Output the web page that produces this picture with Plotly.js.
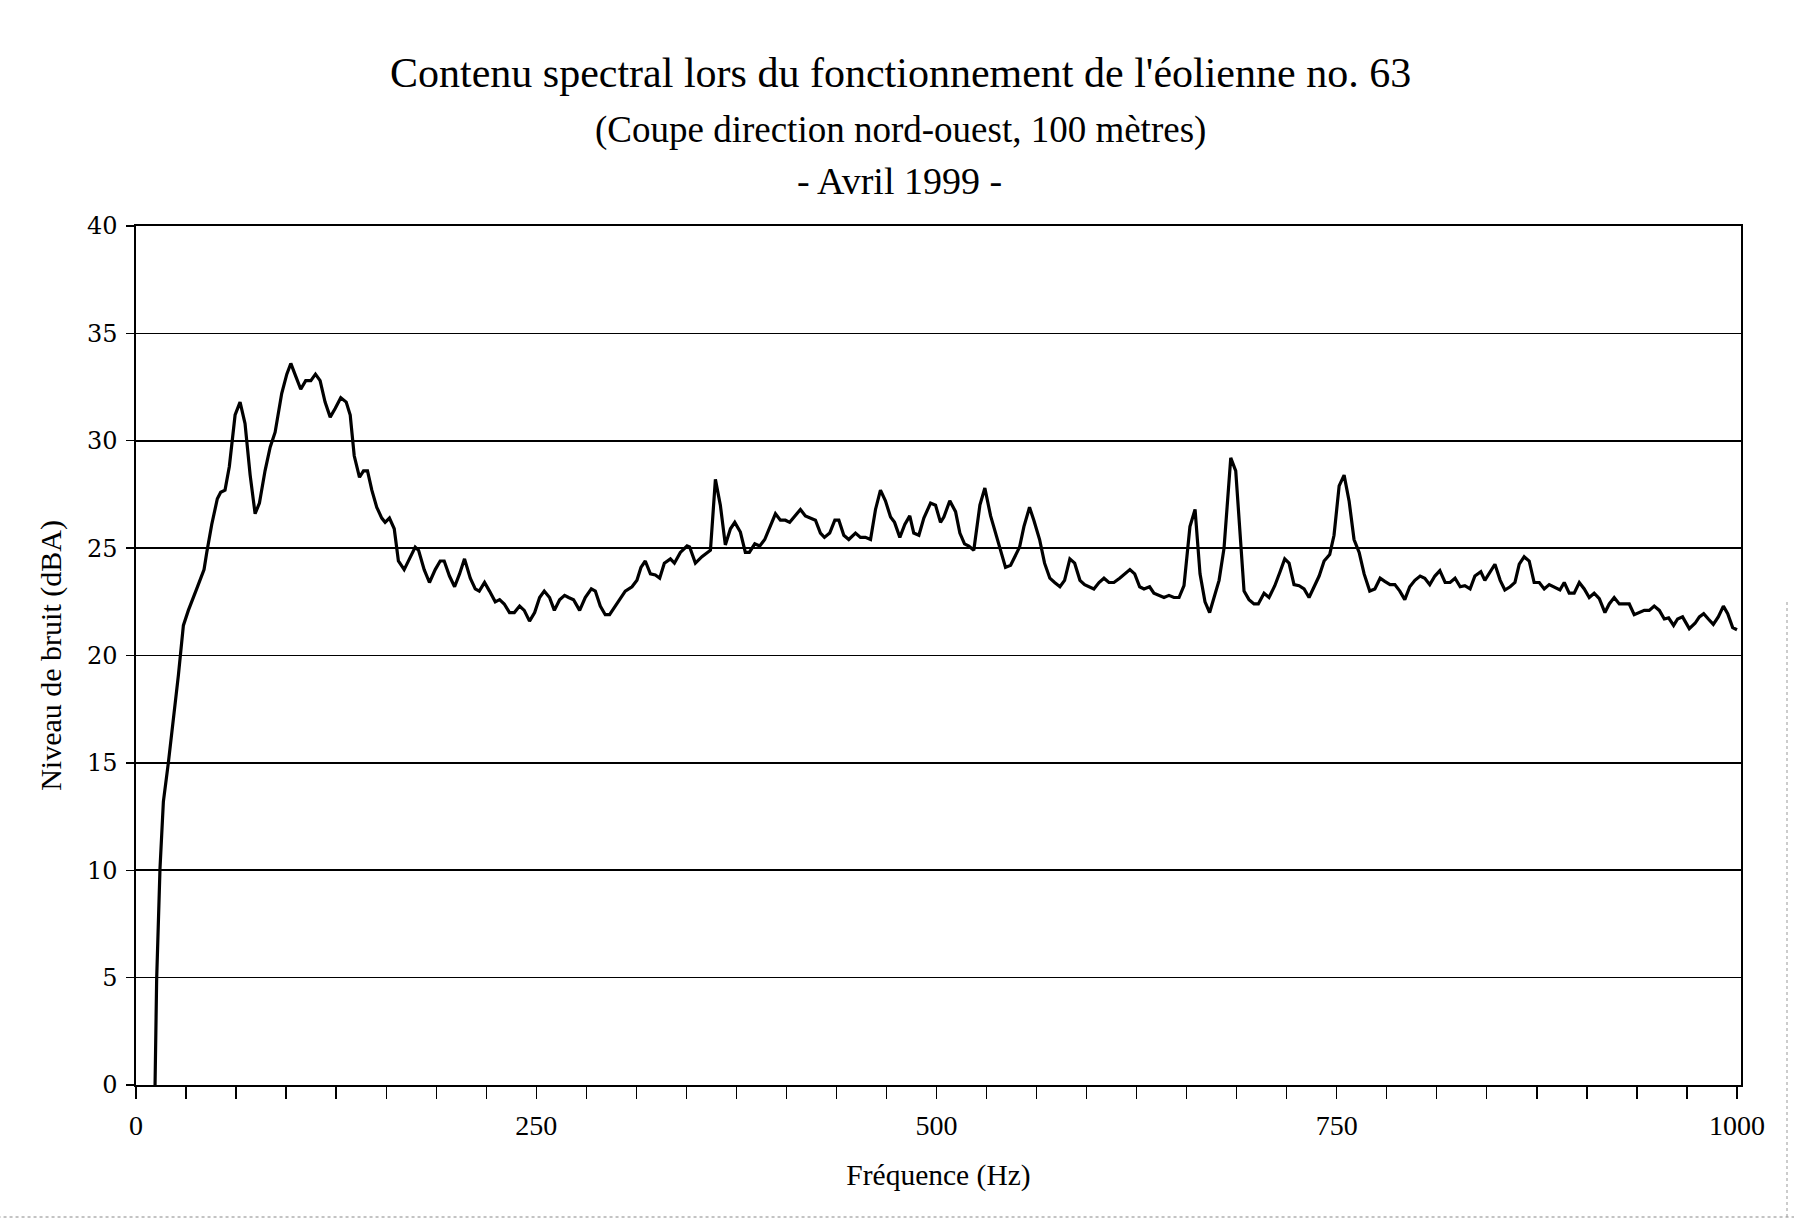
<!DOCTYPE html>
<html>
<head>
<meta charset="utf-8">
<script src="https://cdn.plot.ly/plotly-3.0.1.min.js"></script>
<style>html,body{margin:0;padding:0;background:#fff;}#chart{width:1794px;height:1224px;}</style>
</head>
<body>
<div id="chart"></div>
<script>
// Frequency (Hz) of each sample
const freqHz = [
  11.9, 12.9, 15.0, 17.1, 20.2, 23.3, 26.5, 29.6, 32.7, 37.9, 42.5, 44.2, 47.3, 50.8, 52.9, 55.6, 58.3, 61.9, 65.0, 68.1,
  71.3, 74.4, 77.1, 80.6, 83.8, 86.9, 91.0, 94.2, 96.7, 99.8, 102.9, 106.0, 109.2, 112.1, 115.0, 118.1, 121.3, 124.4, 127.9, 131.3,
  133.8, 136.3, 139.6, 142.1, 144.6, 147.3, 150.4, 153.5, 155.6, 158.3, 161.3, 163.9,
  167.5, 170.8, 174.4, 176.5, 180.0, 183.3, 186.9, 190.0, 192.5, 195.8, 199.0, 202.1, 205.2, 208.8, 211.9, 214.4, 217.7, 220.8, 224.4, 227.1,
  230.0, 233.3, 236.3, 239.6, 242.5, 245.8, 249.0, 252.1, 255.0, 258.3, 261.3, 264.6, 267.7, 270.2, 273.3, 277.1, 280.6, 284.4, 286.9, 290.0,
  293.1, 295.8, 299.4, 302.5, 305.6, 309.8, 312.9, 315.4, 318.1, 321.3, 324.4, 327.1, 330.0,
  333.8, 336.3, 340.0, 344.2, 345.8, 349.4, 353.5, 358.8, 361.9, 365.0, 368.1, 371.3, 374.0, 377.5, 380.6, 383.1, 386.5, 389.6, 392.7, 396.3,
  399.4, 402.5, 405.6, 408.3, 411.9, 415.0, 418.1, 421.3, 424.4, 427.5, 430.0, 433.3, 436.5, 439.0, 442.1, 445.2, 449.4, 452.5, 455.6, 458.8,
  461.9, 465.0, 468.1, 471.3, 473.8, 477.1, 480.2, 483.3, 485.8, 489.0, 492.1, 496.3, 499.4,
  502.5, 504.6, 508.3, 511.9, 514.6, 517.5, 520.2, 523.3, 527.1, 530.2, 533.8, 536.9, 540.0, 543.1, 546.3, 548.8, 551.9, 554.6, 558.1, 560.8,
  564.4, 567.5, 570.8, 573.8, 577.1, 580.0, 583.3, 586.3, 589.6, 592.5, 595.2, 598.3, 601.5, 604.6, 607.7, 610.8, 614.4, 617.5, 620.8, 623.8,
  626.9, 629.6, 633.1, 635.8, 639.0, 642.1, 645.2, 648.3, 651.5, 654.6, 658.3, 661.5, 664.6, 667.7, 670.6,
  673.8, 676.5, 679.6, 681.7, 683.8, 686.9, 689.6, 692.1, 695.2, 698.3, 701.0, 704.6, 707.7, 711.3, 714.6, 717.5, 720.2, 723.3, 726.5, 729.6,
  732.7, 735.8, 739.0, 742.1, 745.6, 748.3, 751.5, 754.6, 757.7, 760.8, 764.0, 767.1, 770.6, 773.8, 777.1, 780.0, 783.3, 786.3, 789.4, 792.5,
  795.6, 798.8, 802.1, 805.0, 808.1, 811.3, 814.4, 817.7, 820.8, 823.9, 827.1, 830.0, 833.3, 836.3,
  840.0, 842.5, 845.2, 848.8, 852.1, 855.0, 858.3, 861.3, 864.0, 867.1, 870.2, 873.3, 876.5, 879.6, 882.7, 885.8, 889.4, 892.1, 895.2, 898.3,
  901.5, 904.6, 907.7, 910.8, 914.0, 917.5, 920.2, 923.3, 926.5, 929.6, 932.7, 935.8, 939.0, 942.1, 945.2, 948.3, 951.5, 954.6, 957.3, 960.4,
  962.9, 966.0, 970.2, 973.8, 976.5, 979.2, 982.1, 985.2, 988.3, 991.5, 994.2, 997.3, 1000.0
];

// Noise level (dBA) at each frequency
const levelDbA = [
  0, 4.9, 10.1, 13.2, 15.0, 16.9, 19.1, 21.4, 22.1, 23.1, 24.0, 24.8, 26.1, 27.3, 27.6, 27.7, 28.8, 31.2, 31.8, 30.8,
  28.4, 26.6, 27.1, 28.6, 29.7, 30.4, 32.2, 33.1, 33.6, 33.0, 32.4, 32.8, 32.8, 33.1, 32.8, 31.8, 31.1, 31.5, 32.0, 31.8,
  31.2, 29.3, 28.3, 28.6, 28.6, 27.7, 26.9, 26.4, 26.2, 26.4, 25.9, 24.4,
  24.0, 24.5, 25.05, 24.9, 24.0, 23.4, 24.0, 24.4, 24.4, 23.7, 23.2, 23.8, 24.5, 23.6, 23.1, 23.0, 23.4, 23.0, 22.5, 22.6,
  22.4, 22.0, 22.0, 22.3, 22.1, 21.6, 22.0, 22.7, 23.0, 22.7, 22.1, 22.6, 22.8, 22.7, 22.6, 22.1, 22.7, 23.1, 23.0, 22.3,
  21.9, 21.9, 22.3, 22.7, 23.0, 23.2, 23.5, 24.1, 24.4, 23.8, 23.75, 23.6, 24.3,
  24.5, 24.3, 24.8, 25.1, 25.05, 24.3, 24.6, 24.9, 28.2, 27.0, 25.15, 25.9, 26.2, 25.75, 24.8, 24.8, 25.2, 25.1, 25.4, 26.1,
  26.6, 26.3, 26.3, 26.2, 26.5, 26.8, 26.5, 26.4, 26.3, 25.7, 25.5, 25.7, 26.3, 26.3, 25.6, 25.4, 25.7, 25.5, 25.5, 25.4,
  26.8, 27.7, 27.2, 26.45, 26.2, 25.5, 26.1, 26.5, 25.7, 25.6, 26.4, 27.1, 27.0,
  26.2, 26.45, 27.2, 26.7, 25.7, 25.2, 25.1, 24.9, 27.0, 27.8, 26.5, 25.7, 25.0, 24.1, 24.2, 24.6, 25.05, 26.0, 26.9, 26.3,
  25.4, 24.3, 23.6, 23.4, 23.2, 23.5, 24.5, 24.3, 23.5, 23.3, 23.2, 23.1, 23.4, 23.6, 23.4, 23.4, 23.6, 23.8, 24.0, 23.8,
  23.2, 23.1, 23.2, 22.9, 22.8, 22.7, 22.8, 22.7, 22.7, 23.25, 26.0, 26.8, 23.8, 22.5, 22.0,
  22.8, 23.5, 25.0, 27.2, 29.2, 28.6, 25.9, 23.0, 22.6, 22.4, 22.4, 22.9, 22.7, 23.25, 23.9, 24.5, 24.3, 23.3, 23.25, 23.1,
  22.7, 23.2, 23.7, 24.4, 24.7, 25.6, 27.9, 28.4, 27.2, 25.4, 24.8, 23.8, 23.0, 23.1, 23.6, 23.45, 23.3, 23.3, 23.0, 22.6,
  23.2, 23.5, 23.7, 23.6, 23.3, 23.7, 23.95, 23.4, 23.4, 23.6, 23.2, 23.25, 23.1, 23.7,
  23.9, 23.5, 23.8, 24.25, 23.5, 23.05, 23.2, 23.4, 24.25, 24.6, 24.4, 23.4, 23.4, 23.1, 23.3, 23.2, 23.05, 23.4, 22.9, 22.9,
  23.4, 23.1, 22.7, 22.9, 22.65, 22.0, 22.4, 22.7, 22.4, 22.4, 22.4, 21.9, 22.0, 22.1, 22.1, 22.3, 22.1, 21.7, 21.75, 21.4,
  21.7, 21.8, 21.25, 21.5, 21.8, 21.95, 21.7, 21.45, 21.8, 22.3, 21.95, 21.3, 21.2
];

const titleLines = [
  "Contenu spectral lors du fonctionnement de l'éolienne no. 63",
  "(Coupe direction nord-ouest, 100 mètres)",
  "- Avril 1999 -"
];
const xAxisTitle = "Fréquence (Hz)";
const yAxisTitle = "Niveau de bruit (dBA)";

const serif = "Liberation Serif, Times New Roman, serif";

const trace = {
  x: freqHz,
  y: levelDbA,
  type: "scatter",
  mode: "lines",
  line: {color: "#000", width: 3.2},
  hoverinfo: "x+y"
};

const layout = {
  width: 1794,
  height: 1224,
  paper_bgcolor: "#fff",
  plot_bgcolor: "#fff",
  showlegend: false,
  margin: {l: 136, r: 53, t: 226, b: 139, pad: 0},
  title: {
    text: titleLines[0],
    font: {family: serif, size: 42, color: "#000"},
    x: 0.502, xref: "container", xanchor: "center",
    y: 1 - 72 / 1224, yref: "container", yanchor: "middle"
  },
  annotations: [
    {text: titleLines[1], xref: "paper", yref: "paper", x: (900 - 136) / 1605, y: (1085 - 130) / 859,
     xanchor: "center", yanchor: "middle", showarrow: false, font: {family: serif, size: 37, color: "#000"}},
    {text: titleLines[2], xref: "paper", yref: "paper", x: (899 - 136) / 1605, y: (1085 - 181) / 859,
     xanchor: "center", yanchor: "middle", showarrow: false, font: {family: serif, size: 38, color: "#000"}}
  ],
  xaxis: {
    range: [0, 1002.5],
    tick0: 0, dtick: 250,
    ticks: "outside", ticklen: 12, tickwidth: 1.3, tickcolor: "#000",
    minor: {tick0: 0, dtick: 31.25, ticks: "outside", ticklen: 12, tickwidth: 1.3, tickcolor: "#000", showgrid: false},
    showgrid: false, zeroline: false,
    showline: true, mirror: true, linecolor: "#000", linewidth: 1.6,
    tickfont: {family: serif, size: 28, color: "#000"},
    ticklabelstandoff: 3,
    title: {text: xAxisTitle, font: {family: serif, size: 29.5, color: "#000"}, standoff: 24},
    fixedrange: true
  },
  yaxis: {
    range: [0, 40],
    tick0: 0, dtick: 5,
    ticks: "outside", ticklen: 8, tickwidth: 1.3, tickcolor: "#000",
    showgrid: true, gridcolor: "#000", gridwidth: 1.6,
    zeroline: false,
    showline: true, mirror: true, linecolor: "#000", linewidth: 1.6,
    tickfont: {family: "DejaVu Serif, serif", size: 24, color: "#000"},
    ticklabelstandoff: 4,
    title: {text: yAxisTitle, font: {family: serif, size: 30, color: "#000"}, standoff: 16},
    fixedrange: true
  },
  shapes: [
    {type: "line", xref: "paper", yref: "paper", x0: -0.09, x1: 1.04, y0: (1085 - 1217) / 859, y1: (1085 - 1217) / 859,
     line: {color: "#888", width: 1, dash: "dot"}},
    {type: "line", xref: "paper", yref: "paper", x0: (1787 - 136) / 1605, x1: (1787 - 136) / 1605, y0: (1085 - 1217) / 859, y1: (1085 - 600) / 859,
     line: {color: "#999", width: 1, dash: "dot"}}
  ]
};

Plotly.newPlot("chart", [trace], layout, {displayModeBar: false, staticPlot: true});
</script>
</body>
</html>
